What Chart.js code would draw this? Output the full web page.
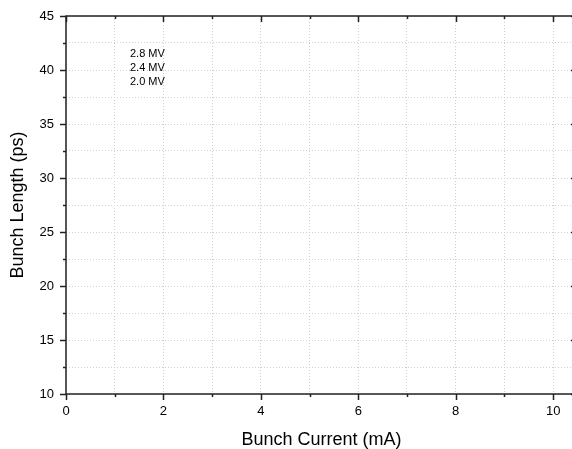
<!DOCTYPE html>
<html>
<head>
<meta charset="utf-8">
<script src="https://cdn.jsdelivr.net/npm/chart.js@4/dist/chart.umd.min.js"></script>
<style>
  html, body { margin: 0; padding: 0; background: #fff; overflow: hidden; }
  /* the plot frame runs a few pixels past the right edge of the picture */
  #wrap { width: 577px; height: 449px; }
</style>
</head>
<body>
<div id="wrap"><canvas id="chart"></canvas></div>
<script>
// series (no points are visible in the source figure, only the legend entries)
const seriesLabels = ['2.8 MV', '2.4 MV', '2.0 MV'];
const current28 = [];
const current24 = [];
const current20 = [];

// axis ticks
const xTicks = [0, 1, 2, 3, 4, 5, 6, 7, 8, 9, 10];
const xLabelTicks = [0, 2, 4, 6, 8, 10];
const yTicks = [10, 12.5, 15, 17.5, 20, 22.5, 25, 27.5, 30, 32.5, 35, 37.5, 40, 42.5, 45];
const yLabelTicks = [10, 15, 20, 25, 30, 35, 40, 45];

const FONT = '"Liberation Sans", Arial, sans-serif';

// axis frame, minor/major tick marks and the in-plot legend text
const framePlugin = {
    id: 'frame',
    afterDraw(chart) {
        const { ctx, chartArea: a, scales: { x, y } } = chart;
        ctx.save();
        ctx.strokeStyle = '#222';
        ctx.lineWidth = 1.5;
        ctx.strokeRect(a.left, a.top, a.right - a.left, a.bottom - a.top);

        ctx.beginPath();
        xTicks.forEach(v => {
            const px = Math.round(x.getPixelForValue(v)) + 0.5;
            const len = xLabelTicks.includes(v) ? 6 : 3;
            ctx.moveTo(px, a.bottom); ctx.lineTo(px, a.bottom + len);
            ctx.moveTo(px, a.top); ctx.lineTo(px, a.top + len);
        });
        yTicks.forEach(v => {
            const py = Math.round(y.getPixelForValue(v)) + 0.5;
            const len = yLabelTicks.includes(v) ? 6 : 3;
            ctx.moveTo(a.left, py); ctx.lineTo(a.left - len, py);
            ctx.moveTo(a.right, py); ctx.lineTo(a.right - len, py);
        });
        ctx.stroke();

        ctx.fillStyle = '#000';
        ctx.font = '11px ' + FONT;
        ctx.textAlign = 'left';
        ctx.textBaseline = 'middle';
        chart.data.datasets.forEach((ds, i) => {
            ctx.fillText(ds.label, a.left + 64, a.top + 38 + i * 14);
        });
        ctx.restore();
    }
};

const gridOpts = {
    color: '#d0d0d0',
    lineWidth: 1,
    drawTicks: false
};

new Chart(document.getElementById('chart'), {
    type: 'scatter',
    data: {
        datasets: [
            { label: seriesLabels[0], data: current28, borderColor: '#000', backgroundColor: '#000' },
            { label: seriesLabels[1], data: current24, borderColor: '#f00', backgroundColor: '#f00' },
            { label: seriesLabels[2], data: current20, borderColor: '#00f', backgroundColor: '#00f' }
        ]
    },
    options: {
        responsive: true,
        maintainAspectRatio: false,
        animation: false,
        layout: { padding: { top: 16, right: 0, left: 0, bottom: 0 } },
        plugins: { legend: { display: false }, tooltip: { enabled: false } },
        scales: {
            x: {
                type: 'linear',
                min: 0,
                max: 10.49,
                afterBuildTicks: s => { s.ticks = xTicks.map(v => ({ value: v })); },
                afterFit: s => { s.height = 55; s.paddingLeft = 0; s.paddingRight = 0; },
                // in v4 the grid line dash is read from border.dash
                border: { display: false, dash: [1, 2] },
                grid: { ...gridOpts },
                ticks: {
                    color: '#000',
                    font: { family: FONT, size: 13 },
                    padding: 10,
                    maxRotation: 0,
                    autoSkip: false,
                    callback: v => xLabelTicks.includes(v) ? String(v) : ''
                },
                title: {
                    display: true,
                    text: 'Bunch Current (mA)',
                    color: '#000',
                    font: { family: FONT, size: 18, lineHeight: 1 },
                    padding: { top: 0, bottom: 0 }
                }
            },
            y: {
                type: 'linear',
                min: 10,
                max: 45,
                afterBuildTicks: s => { s.ticks = yTicks.map(v => ({ value: v })); },
                afterFit: s => { s.width = 66; s.paddingTop = 0; s.paddingBottom = 0; },
                border: { display: false, dash: [1, 2] },
                grid: { ...gridOpts },
                ticks: {
                    color: '#000',
                    font: { family: FONT, size: 13 },
                    padding: 12,
                    autoSkip: false,
                    callback: v => yLabelTicks.includes(v) ? String(v) : ''
                },
                title: {
                    display: true,
                    text: 'Bunch Length (ps)',
                    color: '#000',
                    font: { family: FONT, size: 18, lineHeight: 1 },
                    padding: { top: 9, bottom: 0 }
                }
            }
        }
    },
    plugins: [framePlugin]
});
</script>
</body>
</html>
